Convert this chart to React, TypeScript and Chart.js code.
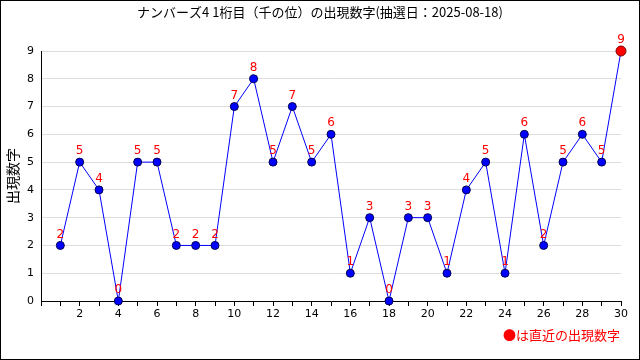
import React, { useEffect, useRef } from "react";
import { Chart, registerables } from "chart.js";

Chart.register(...registerables);

const TITLE = "ナンバーズ4 1桁目（千の位）の出現数字(抽選日：2025-08-18)";
const Y_TITLE = "出現数字";
const NOTE = "●は直近の出現数字";
const DRAWS = [1,2,3,4,5,6,7,8,9,10,11,12,13,14,15,16,17,18,19,20,21,22,23,24,25,26,27,28,29,30];
const DIGITS = [2,5,4,0,5,5,2,2,2,7,8,5,7,5,6,1,3,0,3,3,1,4,5,1,6,2,5,6,5,9];

const JP = "'Noto Sans CJK JP', 'DejaVu Sans', sans-serif";
const NUM = "'DejaVu Sans', sans-serif";

export default function App() {
  const ref = useRef<HTMLCanvasElement>(null);
  useEffect(() => {
    document.body.style.margin = "0";
    const last = DIGITS.length - 1;
    const labelPlugin = {
      id: "valueLabels",
      afterDatasetsDraw(chart: any) {
        const ctx = chart.ctx;
        const meta = chart.getDatasetMeta(0);
        ctx.save();
        ctx.font = `12px ${NUM}`;
        ctx.fillStyle = "#ff0000";
        ctx.textAlign = "center";
        ctx.textBaseline = "middle";
        meta.data.forEach((pt: any, i: number) => {
          ctx.fillText(String(DIGITS[i]), pt.x, pt.y - 11);
        });
        ctx.restore();
      },
      afterDraw(chart: any) {
        const ctx = chart.ctx;
        ctx.save();
        ctx.font = `13px ${JP}`;
        ctx.fillStyle = "#ff0000";
        ctx.textAlign = "right";
        ctx.textBaseline = "middle";
        ctx.fillText(NOTE, chart.chartArea.right - 1, 334);
        ctx.restore();
      },
    };
    const chart = new Chart(ref.current!, {
      type: "line",
      data: {
        datasets: [
          {
            data: DRAWS.map((x, i) => ({ x, y: DIGITS[i] })),
            borderColor: "#0000ff",
            borderWidth: 1,
            pointRadius: DIGITS.map((_, i) => (i === last ? 5 : 4)),
            pointBackgroundColor: DIGITS.map((_, i) => (i === last ? "#ff0000" : "#0000ff")),
            pointBorderColor: DIGITS.map((_, i) => (i === last ? "#800000" : "#000050")),
            pointBorderWidth: 1,
            tension: 0,
            clip: false,
          },
        ],
      },
      options: {
        animation: false,
        responsive: false,
        layout: { padding: { left: 0, right: 0, top: 0, bottom: 0 } },
        plugins: {
          legend: { display: false },
          tooltip: { enabled: false },
          title: {
            display: true,
            text: TITLE,
            color: "#000",
            font: { family: JP, size: 13, weight: "normal" },
            padding: { top: 3, bottom: 31.4 },
          },
        },
        scales: {
          x: {
            type: "linear",
            min: 0,
            max: 30,
            afterFit: (s: any) => { s.height = 58; },
            grid: { drawOnChartArea: false, drawTicks: true, tickLength: 5, color: "#000" },
            border: { color: "#000", width: 1 },
            ticks: {
              stepSize: 1,
              autoSkip: false,
              maxRotation: 0,
              color: "#000",
              padding: 2,
              font: { family: NUM, size: 11 },
              callback: (v: any) => (v % 2 === 0 && v !== 0 ? String(v) : ""),
            },
          },
          y: {
            min: 0,
            max: 9,
            afterFit: (s: any) => { s.width = 40; },
            grid: { color: "#dddddd", drawTicks: false },
            border: { color: "#000", width: 1 },
            ticks: { stepSize: 1, color: "#000", padding: 7, font: { family: NUM, size: 11 } },
            title: {
              display: true,
              text: Y_TITLE,
              color: "#000",
              font: { family: JP, size: 14 },
              padding: { top: 3, bottom: 0 },
            },
          },
          y2: {
            position: "right",
            min: 0,
            max: 1,
            afterFit: (s: any) => { s.width = 18; },
            grid: { display: false },
            border: { display: false },
            ticks: { display: false },
          },
        },
      },
      plugins: [labelPlugin],
    });
    return () => chart.destroy();
  }, []);
  return (
    <div style={{ position: "absolute", left: 0, top: 0, width: 640, height: 360, boxSizing: "border-box", border: "1px solid #000", background: "#fff" }}>
      <canvas ref={ref} width={638} height={358} style={{ display: "block" }} />
    </div>
  );
}
